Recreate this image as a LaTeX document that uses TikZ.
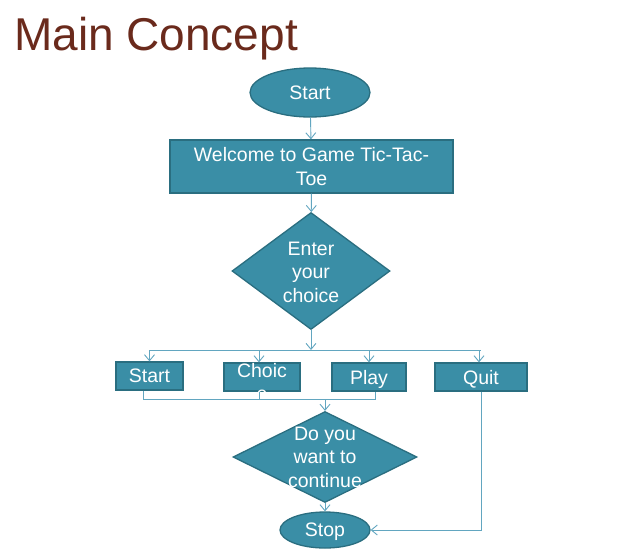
\documentclass[tikz,border=0pt]{standalone}
\usepackage{fontspec}
\setmainfont{Liberation Sans}
\usetikzlibrary{shapes.geometric,arrows.meta}
\definecolor{boxfill}{HTML}{3A8EA6}
\definecolor{boxline}{HTML}{2A6E80}
\definecolor{linkcol}{HTML}{62A6C0}
\definecolor{titlecol}{HTML}{6A2A1C}
\tikzset{
	shapebase/.style={fill=boxfill,draw=boxline,line width=1.3pt,text=white,inner sep=0pt,font=\fontsize{19.5}{23.5}\selectfont,align=center},
	terminal/.style={shapebase,ellipse,text depth=0pt},
	process/.style={shapebase,rectangle,minimum height=28pt,text depth=0pt},
	decision/.style={shapebase,diamond},
	link/.style={draw=linkcol,line width=0.9pt},
	flow/.style={link,-{Straight Barb[length=6pt,width=10pt]}}
}
\begin{document}
\begin{tikzpicture}[x=1pt,y=1pt,yscale=-1]
			\useasboundingbox (0,0) rectangle (629,550);
			
			% Title
			\node [anchor=base west,inner sep=0pt,text=titlecol,font=\fontsize{46}{55}\selectfont] (title) at (14,50) {Main Concept};
			
			% Shapes
			\node [terminal,minimum width=120pt,minimum height=49pt] (begin) at (310,92.5) {Start};
			\node [process,minimum width=283pt,minimum height=53pt] (welcome) at (311.5,166.5) {Welcome to Game Tic-Tac-\\Toe};
			\node [decision,minimum width=158pt,minimum height=117pt,label={[text=white,align=center,yshift=-1pt,font=\fontsize{19.5}{23.5}\selectfont]center:Enter\\your\\choice}] (choose) at (311,271) {};
			\node [process,minimum width=67pt] (optstart) at (149.5,376) {Start};
			\node [process,minimum width=76pt,label={[text=white,align=center,yshift=-5pt,font=\fontsize{19.5}{23.5}\selectfont]center:Choic\\e}] (optchoice) at (262,377) {};
			\node [process,minimum width=74pt] (optplay) at (369,377) {Play};
			\node [process,minimum width=92pt] (optquit) at (481,377) {Quit};
			\node [decision,minimum width=184pt,minimum height=91pt,label={[text=white,align=center,font=\fontsize{19.5}{23.5}\selectfont]center:Do you\\want to\\continue}] (again) at (325,457) {};
			\node [terminal,minimum width=90pt,minimum height=36pt] (stop) at (325,530) {Stop};
			
			% Bus lines
			\coordinate (split) at (0,350);
			\coordinate (join) at (0,399);
			
			% Connectors
			\draw [flow] (begin) -- (welcome);
			\draw [flow] (welcome) -- (choose);
			\draw [flow] (choose.south) -- (choose.south |- split);
			\draw [link] (optstart.north |- split) -- (optquit.north |- split);
			\draw [flow] (optstart.north |- split) -- (optstart.north);
			\draw [flow] ([xshift=-3pt]optchoice.north |- split) -- ([xshift=-3pt]optchoice.north);
			\draw [flow] (optplay.north |- split) -- (optplay.north);
			\draw [flow] ([xshift=-2pt]optquit.north |- split) -- ([xshift=-2pt]optquit.north);
			\draw [link] ([xshift=-6.5pt]optstart.south) -- ([xshift=-6.5pt]optstart.south |- join) -- ([xshift=6pt]optplay.south |- join) -- ([xshift=6pt]optplay.south);
			\draw [link] ([xshift=-3pt]optchoice.south) -- ([xshift=-3pt]optchoice.south |- join);
			\draw [flow] (again.north |- join) -- (again.north);
			\draw [flow] (again) -- (stop);
			\draw [flow] (optquit.south) |- (stop.east);
		\end{tikzpicture}
\end{document}
